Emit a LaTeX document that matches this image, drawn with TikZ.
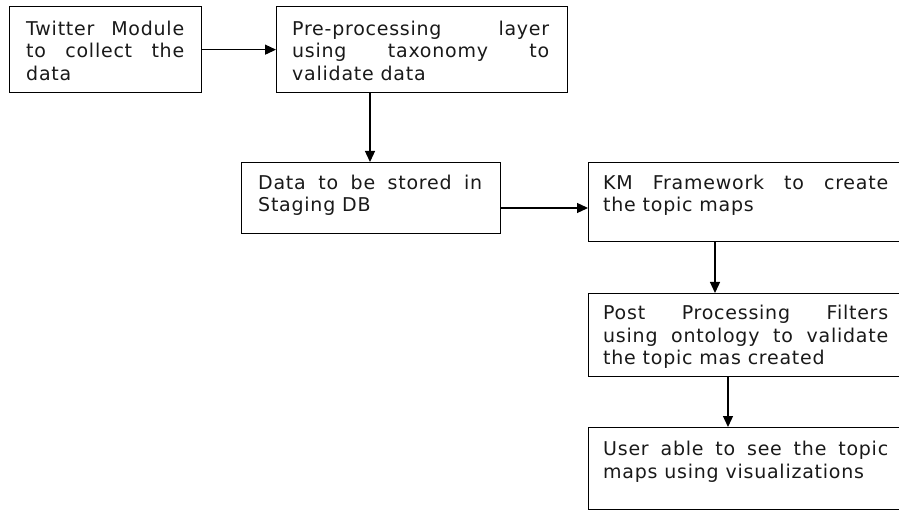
\documentclass[tikz,border=0pt]{standalone}
\usepackage{fontspec}
\setmainfont{DejaVu Sans}[LetterSpace=4]
\usetikzlibrary{arrows.meta}
\tolerance=10000
\hbadness=10000
\hyphenpenalty=10000
\exhyphenpenalty=10000
\begin{document}
\begin{tikzpicture}[x=1pt,y=-1pt,
  box/.style={draw=black,line width=1.3pt,rectangle,inner sep=0pt,anchor=north west},
  txt/.style={anchor=north west,inner sep=0pt,align=justify,text=black!90,
    font=\fontsize{19}{22.5}\selectfont},
  arr/.style={line width=1.3pt,-{Triangle[length=11pt,width=10pt]}}]
\useasboundingbox (0,0) rectangle (899,510);
\clip (0,0) rectangle (899,510);
% boxes
\node[box,minimum width=192pt,minimum height=86pt] (b1) at (9,6) {};
\node[box,minimum width=291pt,minimum height=86pt] (b2) at (276,6) {};
\node[box,minimum width=259pt,minimum height=71pt] (b3) at (241,162) {};
\node[box,minimum width=320pt,minimum height=79pt] (b4) at (588,162) {};
\node[box,minimum width=320pt,minimum height=83pt] (b5) at (588,293) {};
\node[box,minimum width=320pt,minimum height=81.5pt] (b6) at (588,427) {};
% texts
\node[txt,text width=158pt] (t1) at (26,20.5) {Twitter Module\linebreak to collect the\linebreak data};
\node[txt,text width=257pt] (t2) at (292,20.5) {Pre-processing layer\linebreak using taxonomy to\linebreak validate data};
\node[txt,text width=224pt] (t3) at (258,174.5) {Data to be stored in\linebreak Staging DB};
\node[txt,text width=285pt] (t4) at (603,174.5) {KM Framework to create\linebreak the topic maps};
\node[txt,text width=285pt] (t5) at (603,305) {Post Processing Filters\linebreak using ontology to validate\linebreak the topic mas created};
\node[txt,text width=285pt] (t6) at (603,441) {User able to see the topic\linebreak maps using visualizations};
% connector positions
\coordinate (x2) at (370,0);
\coordinate (y3) at (0,208);
\coordinate (x4) at (715,0);
\coordinate (x5) at (728,0);
% connectors
\draw[arr] (b1.east) -- (b2.west);
\draw[arr] (b2.south -| x2) -- (b3.north -| x2);
\draw[arr] (b3.east |- y3) -- (b4.west |- y3);
\draw[arr] (b4.south -| x4) -- (b5.north -| x4);
\draw[arr] (b5.south -| x5) -- (b6.north -| x5);
\end{tikzpicture}
\end{document}
